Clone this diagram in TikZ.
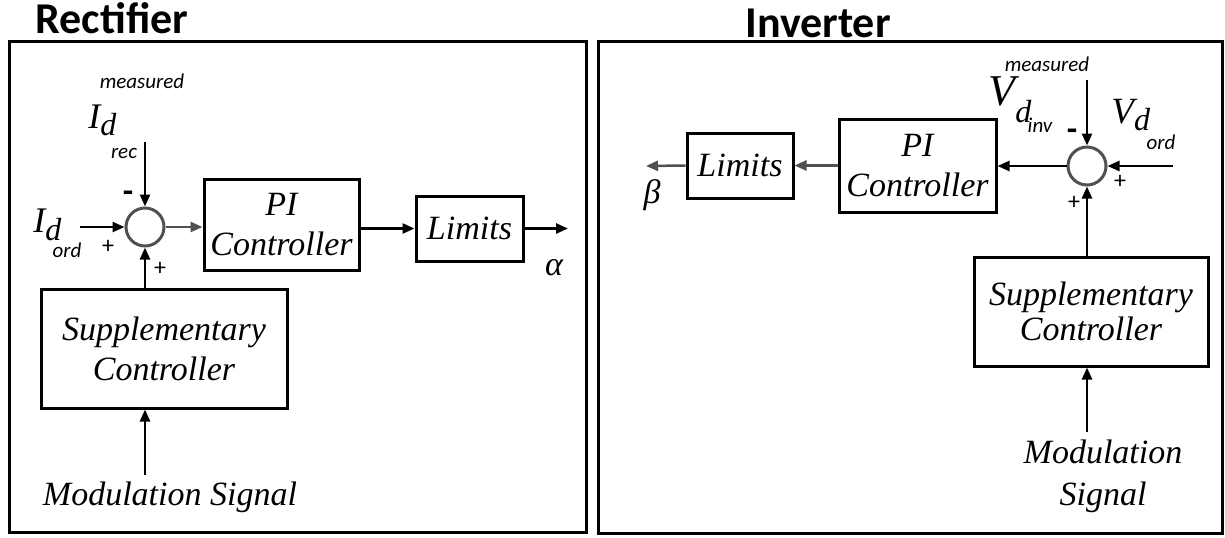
\documentclass[tikz,border=0pt]{standalone}
\usepackage{fontspec}
\setmainfont{Liberation Serif}
\setsansfont{Carlito}
\usetikzlibrary{arrows.meta, positioning, calc}
\definecolor{sumgray}{RGB}{80, 80, 80}
\newcommand{\dsig}[3]{{\fontsize{#2}{#2}\selectfont\itshape #1}%
  \raisebox{-#3}{\fontsize{16}{16}\selectfont\itshape d}}

\begin{document}
\begin{tikzpicture}[x=0.5pt, y=-0.5pt,
    blk/.style={draw, line width=1.5pt, align=center, inner sep=0pt,
      font=\fontsize{17}{20}\selectfont\itshape},
    sumpt/.style={circle, draw=sumgray, line width=1.5pt,
      minimum size=19pt, inner sep=0pt},
    arr/.style={-{Triangle[length=6pt, width=5pt]}, line width=1.25pt},
    lbl/.style={inner sep=0pt, align=center,
      font=\fontsize{17}{21}\selectfont\itshape},
    sub/.style={inner sep=0pt, anchor=base,
      font=\sffamily\itshape\fontsize{10.5}{10.5}\selectfont},
    sgn/.style={inner sep=0pt, font=\sffamily\fontsize{12}{12}\selectfont},
    neg/.style={inner sep=0pt, font=\sffamily\bfseries\fontsize{17}{17}\selectfont},
    ttl/.style={inner sep=0pt, font=\sffamily\bfseries\fontsize{22}{22}\selectfont}
  ]
  \useasboundingbox (0,0) rectangle (1225,537);

  % frames and titles
  \draw[line width=1.5pt] (9,41) rectangle (586,532);
  \draw[line width=1.5pt] (598,41) rectangle (1222,533);
  \node[ttl] (rtitle) at (112,18) {Rectifier};
  \node[ttl] (ititle) at (818,23) {Inverter};

  % rectifier
  \node[sumpt] (lsum) at (145,227) {};
  \node[blk, minimum width=77.5pt, minimum height=45.5pt] (lpi)
    at (281.5,224.5) {PI\\Controller};
  \node[blk, minimum width=53.5pt, minimum height=32.5pt] (llim)
    at (469.5,228.5) {Limits};
  \node[blk, minimum width=123pt, minimum height=59.5pt] (lsup)
    at (164,348.5) {Supplementary\\Controller};
  \node[lbl] (lmod) at (170,497) {Modulation Signal};
  \node[lbl] (lalpha) at (554,268) {α};
  \coordinate (lrecin) at (145,142);
  \coordinate (lordin) at (80,227);
  \coordinate (lout) at (568,228.5);
  \coordinate (lmodin) at (145,475);

  \node[inner sep=0pt, anchor=base west] (lidrec) at (88,128) {\dsig{I}{18}{3.5pt}};
  \node[sub] (lmeas) at (142,88) {measured};
  \node[sub] (lrec) at (124,158) {rec};
  \node[inner sep=0pt, anchor=base west] (lidord) at (33,232) {\dsig{I}{18}{4pt}};
  \node[sub] (lord) at (67,257) {ord};
  \node[neg] (lminus) at (128,197) {-};
  \node[sgn] (lplusa) at (108,247) {+};
  \node[sgn] (lplusb) at (160,269) {+};

  \draw[arr] (lrecin) -- (lsum.north);
  \draw[arr] (lordin) -- (lsum.west);
  \draw[arr, sumgray] (lsum.east) -- (lsum.east -| lpi.west);
  \draw[arr] (lpi.east |- llim) -- (llim.west);
  \draw[arr] (llim.east) -- (lout);
  \draw[arr] (lsum |- lsup.north) -- (lsum.south);
  \draw[arr] (lmodin) -- (lsum |- lsup.south);

  % inverter
  \node[sumpt] (rsum) at (1087,166) {};
  \node[blk, minimum width=78.5pt, minimum height=46.5pt] (rpi)
    at (917.5,165.5) {PI\\Controller};
  \node[blk, minimum width=53pt, minimum height=32.5pt] (rlim)
    at (740,165.5) {Limits};
  \node[blk, minimum width=117pt, minimum height=54.5pt,
    font=\fontsize{17}{17.5}\selectfont\itshape] (rsup)
    at (1091,311.5) {Supplementary\\Controller};
  \node[lbl] (rmod) at (1103,476) {Modulation\\Signal};
  \node[lbl] (rbeta) at (652,195) {β};
  \coordinate (rvdin) at (1087,80);
  \coordinate (rordin) at (1173,166);
  \coordinate (rout) at (646,166);
  \coordinate (rmodin) at (1087,432);

  \node[inner sep=0pt, anchor=base west] (rvdinv) at (988,105) {\dsig{V}{22}{8.5pt}};
  \node[sub] (rmeas) at (1047,71) {measured};
  \node[sub] (rinv) at (1040,132) {inv};
  \node[inner sep=0pt, anchor=base west] (rvdord) at (1111,123) {\dsig{V}{18.5}{3.5pt}};
  \node[sub] (rord) at (1161,149) {ord};
  \node[neg] (rminus) at (1072,135) {-};
  \node[sgn] (rplusa) at (1120,182) {+};
  \node[sgn] (rplusb) at (1074,203) {+};

  \draw[arr] (rvdin) -- (rsum.north);
  \draw[arr] (rordin) -- (rsum.east);
  \draw[arr] (rsum.west) -- (rsum.west -| rpi.east);
  \draw[arr, sumgray] (rpi.west) -- (rlim.east);
  \draw[arr, sumgray] (rlim.west) -- (rout);
  \draw[arr] (rsum |- rsup.north) -- (rsum.south);
  \draw[arr] (rmodin) -- (rsum |- rsup.south);
\end{tikzpicture}
\end{document}
